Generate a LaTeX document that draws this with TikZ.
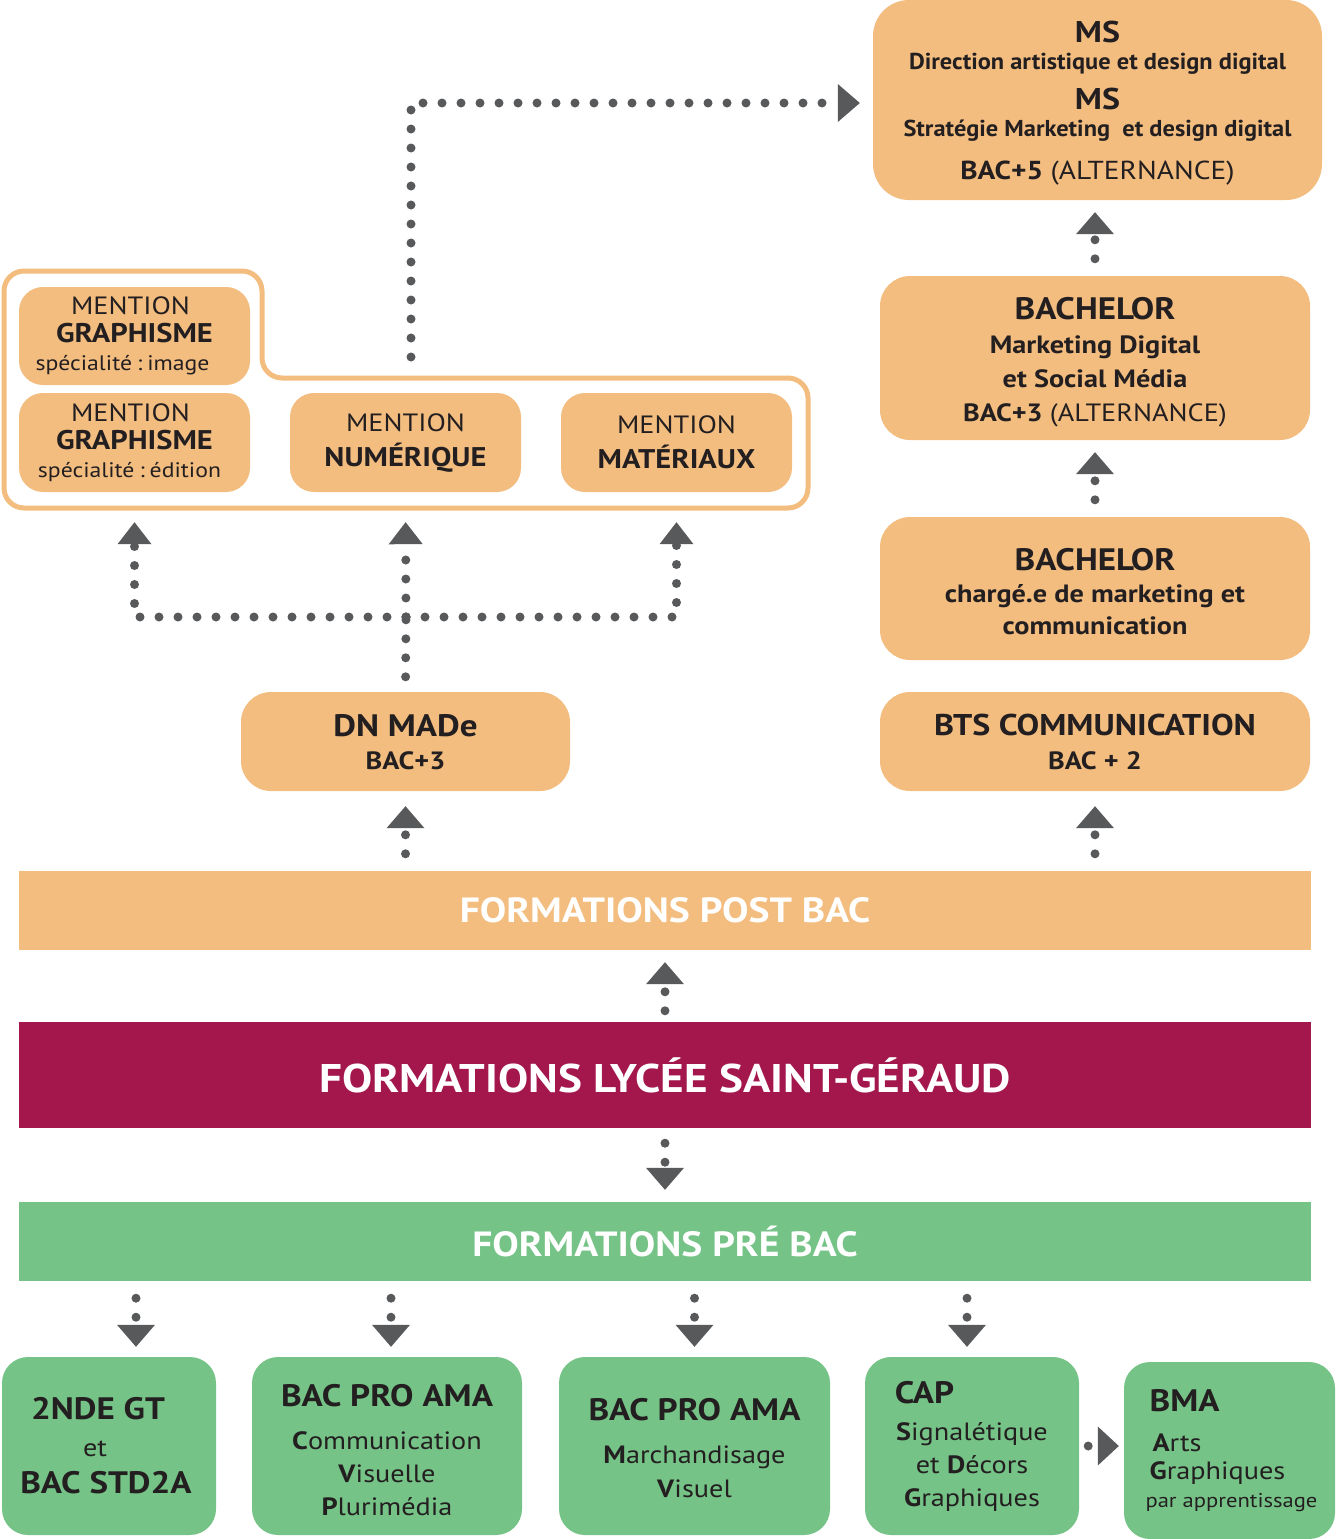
\documentclass[tikz,border=0pt]{standalone}
\usepackage{fontspec}
\setmainfont{PT Sans}[FakeStretch=1.13]
\newfontfamily\tightfont{PT Sans}[FakeStretch=1.06]
\usetikzlibrary{arrows.meta}

\definecolor{orangefill}{HTML}{F3BD80}
\definecolor{lyceered}{HTML}{A3174D}
\definecolor{greenfill}{HTML}{76C387}
\definecolor{dotgray}{HTML}{58595B}
\definecolor{textdark}{HTML}{231F20}
\newcommand{\fsz}[2]{\fontsize{#1}{#2}\selectfont}

\begin{document}
\begin{tikzpicture}[x=1pt,y=-1pt,
    orangebox/.style={fill=orangefill,text=textdark,align=center,inner sep=0pt,rounded corners=30pt},
    greenbox/.style={fill=greenfill,text=textdark,align=center,inner sep=0pt,rounded corners=26pt},
    mentionbox/.style={orangebox,minimum width=231pt,minimum height=99pt,rounded corners=24pt,font=\fsz{25}{28}},
    band/.style={minimum width=1292pt,inner sep=0pt,text=white,font=\bfseries\fsz{35}{40}},
    dotline/.style={dotgray,line width=9pt,line cap=round,dash pattern=on 0pt off 19pt},
    dotarrow/.style={dotline,-{Triangle[width=38pt,length=22pt,line width=0pt]}}]
  \useasboundingbox (0,0) rectangle (1336,1539);

  % post bac, right column
  \node[orangebox,minimum width=449pt,minimum height=200pt,rounded corners=36pt,font=\bfseries\fsz{26}{27}] (ms) at (1097.5,100)
    {{\fsz{30}{27}\rule{0pt}{27pt}MS}\\{\tightfont\bfseries\fsz{23}{27}Direction artistique et design digital}\\[13pt]{\fsz{30}{27}MS}\\{\tightfont\bfseries\fsz{23}{27}Stratégie Marketing\ \ et design digital}\\[16pt]BAC+5 {\mdseries(ALTERNANCE)}};
  \node[orangebox,minimum width=430pt,minimum height=164pt,font=\bfseries\fsz{25}{34}] (bachelorA) at (1095,358)
    {{\fsz{31}{34}\rule{0pt}{31pt}BACHELOR}\\Marketing Digital\\et Social Média\\BAC+3 {\mdseries(ALTERNANCE)}};
  \node[orangebox,minimum width=430pt,minimum height=143pt,font=\bfseries\fsz{25}{32}] (bachelorB) at (1095,588.5)
    {{\fsz{31}{32}\rule{0pt}{28pt}BACHELOR}\\chargé.e de marketing et\\communication};
  \node[orangebox,minimum width=430pt,minimum height=99pt,font=\bfseries\fsz{25}{34}] (bts) at (1095,741.5)
    {{\fsz{30}{34}\rule{0pt}{23pt}BTS COMMUNICATION}\\BAC + 2};

  % post bac, left column
  \node[orangebox,minimum width=329pt,minimum height=99pt,font=\bfseries\fsz{25}{33}] (dnmade) at (405.5,741.5)
    {{\fsz{31}{33}\rule{0pt}{24pt}DN MADe}\\BAC+3};
  \node[mentionbox,minimum height=98pt] (gimage) at (134.5,336)
    {MENTION\hspace*{8pt}\\{\bfseries\fsz{27}{28}GRAPHISME}\hspace*{24pt}\\{\fsz{21}{28}spécialité\hspace{5pt}:\hspace{5pt}image}\hspace*{24pt}};
  \node[mentionbox] (gedition) at (134.5,442.5)
    {MENTION\hspace*{8pt}\\{\bfseries\fsz{27}{28}GRAPHISME}\hspace*{14pt}\\{\fsz{21}{28}spécialité\hspace{5pt}:\hspace{5pt}édition}\hspace*{10pt}};
  \node[mentionbox] (numerique) at (405.5,442.5)
    {MENTION\\[7pt]{\bfseries\fsz{27}{28}NUMÉRIQUE}};
  \node[mentionbox] (materiaux) at (676.5,442.5)
    {MENTION\\[7pt]{\bfseries\fsz{27}{28}MATÉRIAUX}};
  \draw[orangefill,line width=5pt,rounded corners=20pt]
    (4,271) -- (262,271) -- (262,378) -- (808,378) -- (808,508) -- (4,508) -- cycle;
  \coordinate (grouptop) at (411,378);
  \coordinate (hub) at (406,617);

  % bands
  \node[band,fill=orangefill,minimum height=79pt] (postbac) at (665,910.5) {FORMATIONS POST BAC};
  \node[band,fill=lyceered,minimum height=106pt,font=\bfseries\fsz{40}{40}] (lycee) at (665,1075) {FORMATIONS LYCÉE SAINT-GÉRAUD};
  \node[band,fill=greenfill,minimum height=79pt] (prebac) at (665,1241.5) {FORMATIONS PRÉ BAC};

  % pre bac
  \node[greenbox,minimum width=214pt,minimum height=178pt,font=\fsz{25}{37}] (seconde) at (109,1446)
    {{\bfseries\fsz{31}{37}2NDE GT\hspace*{22pt}}\\{et\kern28pt}\\{\bfseries\fsz{31}{37}BAC STD2A\hspace*{6pt}}};
  \node[greenbox,minimum width=270pt,minimum height=178pt,font=\fsz{25}{33}] (amacv) at (387,1446)
    {{\bfseries\fsz{31}{33}\rule{0pt}{31pt}BAC PRO AMA}\\[10pt]\textbf{C}ommunication\\\textbf{V}isuelle\\\textbf{P}lurimédia};
  \node[greenbox,minimum width=271pt,minimum height=178pt,font=\fsz{25}{34}] (amamv) at (694.5,1446)
    {{\bfseries\fsz{31}{34}\rule{0pt}{27pt}BAC PRO AMA}\\[9pt]\textbf{M}archandisage\\\textbf{V}isuel};
  \node[greenbox,minimum width=214pt,minimum height=178pt,font=\fsz{25}{33}] (cap) at (972,1446)
    {{\bfseries\fsz{31}{33}CAP\hspace*{95pt}}\\[4pt]\textbf{S}ignalétique\\et \textbf{D}écors\\\textbf{G}raphiques};
  \node[greenbox,minimum width=211pt,minimum height=177pt,align=left,font=\fsz{25}{28}] (bma) at (1229.5,1450.5)
    {\hspace*{8pt}{\bfseries\fsz{31}{28}BMA}\\[12pt]\hspace*{11pt}\textbf{A}rts\\\hspace*{8pt}\textbf{G}raphiques\\\hspace*{4pt}{\fsz{20}{28}par apprentissage}};

  % connectors
  \draw[dotarrow,shorten <=21pt,shorten >=13pt] (grouptop) |- ([yshift=-3pt]ms.west);
  \draw[dotarrow,shorten <=17pt,shorten >=12pt] (bachelorA.north) -- (bachelorA.north |- ms.south);
  \draw[dotarrow,shorten <=17pt,shorten >=12pt] (bachelorB.north) -- (bachelorA.south);
  \draw[dotarrow,shorten <=17pt,shorten >=15pt] (postbac.north -| bts) -- (bts.south);
  \draw[dotarrow,shorten <=17pt,shorten >=15pt] (postbac.north -| dnmade) -- (dnmade.south);
  \draw[dotline,shorten <=15pt] (dnmade.north) -- (hub);
  \draw[dotarrow,-{Triangle[width=34pt,length=22pt,line width=0pt]},shorten >=30pt] (hub) -| (gedition.south);
  \draw[dotarrow,-{Triangle[width=34pt,length=22pt,line width=0pt]},shorten >=30pt] (hub) -- (numerique.south);
  \draw[dotarrow,-{Triangle[width=34pt,length=22pt,line width=0pt]},shorten >=30pt] (hub) -| (materiaux.south);
  \draw[dotarrow,shorten <=11pt,shorten >=12pt] (lycee.north) -- (postbac.south);
  \draw[dotarrow,shorten <=15pt,shorten >=12pt] (lycee.south) -- (prebac.north);
  \draw[dotarrow,shorten <=17pt,shorten >=10pt] ([xshift=27pt]prebac.south -| seconde.north) -- ([xshift=27pt]seconde.north);
  \draw[dotarrow,shorten <=17pt,shorten >=10pt] ([xshift=4pt]prebac.south -| amacv.north) -- ([xshift=4pt]amacv.north);
  \draw[dotarrow,shorten <=17pt,shorten >=10pt] (prebac.south -| amamv.north) -- (amamv.north);
  \draw[dotarrow,shorten <=17pt,shorten >=10pt] ([xshift=-5pt]prebac.south -| cap.north) -- ([xshift=-5pt]cap.north);
  \draw[dotarrow,-{Triangle[width=39pt,length=21pt,line width=0pt]},shorten <=9pt,shorten >=5pt] (cap.east) -- (cap.east -| bma.west);
\end{tikzpicture}
\end{document}
